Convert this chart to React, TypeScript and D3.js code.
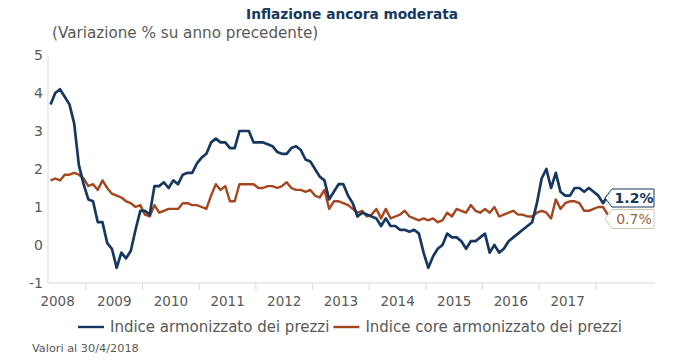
import { useRef, useEffect } from 'react';
import * as d3 from 'd3';

// monthly series, first value = May 2008, last = Mar 2018
const START_YEAR = 2008;
const START_MONTH = 4; // 0-based, May

const hicp = [
  3.7, 4.0, 4.1, 3.9, 3.7, 3.2, 2.1, 1.6,
  1.2, 1.15, 0.6, 0.6, 0.05, -0.1, -0.6, -0.2, -0.35, -0.15, 0.4, 0.9,
  0.9, 0.8, 1.55, 1.55, 1.65, 1.5, 1.7, 1.6, 1.85, 1.9, 1.9, 2.15,
  2.3, 2.4, 2.7, 2.8, 2.7, 2.7, 2.55, 2.55, 3.0, 3.0, 3.0, 2.7,
  2.7, 2.7, 2.65, 2.6, 2.45, 2.4, 2.4, 2.55, 2.6, 2.5, 2.25, 2.2,
  2.0, 1.8, 1.7, 1.2, 1.4, 1.6, 1.6, 1.3, 1.1, 0.75, 0.85, 0.8,
  0.75, 0.7, 0.5, 0.7, 0.5, 0.5, 0.4, 0.4, 0.35, 0.4, 0.3, -0.2,
  -0.6, -0.3, -0.1, 0.0, 0.3, 0.2, 0.2, 0.1, -0.1, 0.1, 0.1, 0.2,
  0.3, -0.2, 0.0, -0.2, -0.1, 0.1, 0.2, 0.3, 0.4, 0.5, 0.6, 1.1,
  1.75, 2.0, 1.5, 1.9, 1.4, 1.3, 1.3, 1.5, 1.5, 1.4, 1.5, 1.4,
  1.3, 1.1, 1.3,
];

const core = [
  1.7, 1.75, 1.7, 1.85, 1.85, 1.9, 1.85, 1.75,
  1.55, 1.6, 1.45, 1.7, 1.5, 1.35, 1.3, 1.25, 1.15, 1.1, 1.0, 1.05,
  0.8, 0.75, 1.05, 0.85, 0.9, 0.95, 0.95, 0.95, 1.1, 1.1, 1.05, 1.05,
  1.0, 0.95, 1.3, 1.6, 1.45, 1.55, 1.15, 1.15, 1.6, 1.6, 1.6, 1.6,
  1.5, 1.5, 1.55, 1.55, 1.5, 1.55, 1.65, 1.5, 1.45, 1.45, 1.4, 1.45,
  1.3, 1.25, 1.45, 0.95, 1.15, 1.15, 1.1, 1.05, 0.95, 0.85, 0.9, 0.75,
  0.8, 0.95, 0.7, 0.95, 0.7, 0.75, 0.8, 0.9, 0.75, 0.7, 0.65, 0.7,
  0.65, 0.7, 0.6, 0.65, 0.85, 0.75, 0.95, 0.9, 0.85, 1.05, 0.9, 0.85,
  0.95, 0.85, 1.0, 0.75, 0.8, 0.85, 0.9, 0.8, 0.8, 0.75, 0.75, 0.85,
  0.9, 0.85, 0.7, 1.2, 0.95, 1.1, 1.15, 1.15, 1.1, 0.9, 0.9, 0.95,
  1.0, 1.0, 0.8,
];

const years = [2008, 2009, 2010, 2011, 2012, 2013, 2014, 2015, 2016, 2017];
const yTicks = [-1, 0, 1, 2, 3, 4, 5];

const seriesNames = ['Indice armonizzato dei prezzi', 'Indice core armonizzato dei prezzi'];
const endLabels = ['1.2%', '0.7%'];

const NAVY = '#163860';
const BROWN = '#a5461f';
const GREY = '#595959';
const AXIS = '#d9d9d9';
const FONT = "'DejaVu Sans', sans-serif";

export default function App() {
  const svgRef = useRef<SVGSVGElement>(null);
  const width = 677;
  const height = 362;

  useEffect(() => {
    if (!svgRef.current) return;
    const svg = d3.select(svgRef.current);
    svg.selectAll('*').remove();

    // month index 0 = Jan 2008, year slots of 12 months
    const x = d3.scaleLinear().domain([0, 132]).range([29.3, 652.6]);
    const y = d3.scaleLinear().domain([-1, 5]).range([283, 55]);
    const axisLeft = 48;

    svg.append('rect').attr('width', width).attr('height', height).attr('fill', '#fff');

    // title + subtitle
    svg.append('text')
      .attr('x', 352).attr('y', 19)
      .attr('text-anchor', 'middle')
      .attr('font-family', FONT).attr('font-size', 13.7).attr('font-weight', 700)
      .attr('fill', NAVY)
      .text('Inflazione ancora moderata');

    svg.append('text')
      .attr('x', 52).attr('y', 38)
      .attr('font-family', FONT).attr('font-size', 15.2)
      .attr('fill', GREY)
      .text('(Variazione % su anno precedente)');

    // axes lines
    svg.append('line')
      .attr('x1', axisLeft).attr('x2', axisLeft)
      .attr('y1', y(5)).attr('y2', y(-1))
      .attr('stroke', AXIS).attr('stroke-width', 1);

    svg.append('line')
      .attr('x1', axisLeft).attr('x2', 655)
      .attr('y1', y(-1)).attr('y2', y(-1))
      .attr('stroke', AXIS).attr('stroke-width', 1);

    // y labels
    yTicks.forEach(t => {
      svg.append('text')
        .attr('x', 43).attr('y', y(t))
        .attr('text-anchor', 'end')
        .attr('dominant-baseline', 'central')
        .attr('font-family', FONT).attr('font-size', 14)
        .attr('fill', GREY)
        .text(t);
    });

    // x ticks at year boundaries, labels at mid-year
    years.forEach((yr, i) => {
      const m = (yr - START_YEAR + 1) * 12;
      svg.append('line')
        .attr('x1', x(m)).attr('x2', x(m))
        .attr('y1', y(-1)).attr('y2', y(-1) + 7)
        .attr('stroke', AXIS);
      svg.append('text')
        .attr('x', x(i * 12 + 6)).attr('y', 306)
        .attr('text-anchor', 'middle')
        .attr('font-family', FONT).attr('font-size', 13.5)
        .attr('fill', GREY)
        .text(yr);
    });

    const line = d3.line<number>()
      .x((_, i) => x(START_MONTH + i + 0.5))
      .y(d => y(d));

    svg.append('path')
      .datum(core)
      .attr('d', line)
      .attr('fill', 'none')
      .attr('stroke', BROWN)
      .attr('stroke-width', 2.4)
      .attr('stroke-linejoin', 'round');

    svg.append('path')
      .datum(hicp)
      .attr('d', line)
      .attr('fill', 'none')
      .attr('stroke', NAVY)
      .attr('stroke-width', 2.7)
      .attr('stroke-linejoin', 'round');

    // end-of-line callouts
    const callout = (yc: number, h: number, stroke: string, color: string, weight: number, label: string) => {
      const tip = 605, left = 612, right = 654;
      svg.append('path')
        .attr('d', `M${tip},${yc} L${left},${yc - h / 2} L${right},${yc - h / 2} L${right},${yc + h / 2} L${left},${yc + h / 2} Z`)
        .attr('fill', '#fff')
        .attr('stroke', stroke)
        .attr('stroke-width', 1);
      svg.append('text')
        .attr('x', (left + right) / 2 + 1).attr('y', yc)
        .attr('text-anchor', 'middle')
        .attr('dominant-baseline', 'central')
        .attr('font-family', FONT).attr('font-size', 14).attr('font-weight', weight)
        .attr('fill', color)
        .text(label);
    };
    callout(198, 18, NAVY, NAVY, 700, endLabels[0]);
    callout(219, 19, '#d8c4a8', '#a0643c', 400, endLabels[1]);

    // legend
    const legendY = 327;
    let lx = 78;
    [NAVY, BROWN].forEach((color, i) => {
      svg.append('line')
        .attr('x1', lx).attr('x2', lx + 26)
        .attr('y1', legendY).attr('y2', legendY)
        .attr('stroke', color).attr('stroke-width', 2.4);
      const t = svg.append('text')
        .attr('x', lx + 32).attr('y', legendY)
        .attr('dominant-baseline', 'central')
        .attr('font-family', FONT).attr('font-size', 15)
        .attr('fill', GREY)
        .text(seriesNames[i]);
      lx = lx + 32 + (t.node() as SVGTextElement).getComputedTextLength() + 4;
    });

    svg.append('text')
      .attr('x', 32).attr('y', 352)
      .attr('font-family', FONT).attr('font-size', 11.3)
      .attr('fill', GREY)
      .text('Valori al 30/4/2018');
  }, []);

  return (
    <div style={{ position: 'absolute', left: 0, top: 0, width, height }}>
      <svg ref={svgRef} width={width} height={height} />
    </div>
  );
}
